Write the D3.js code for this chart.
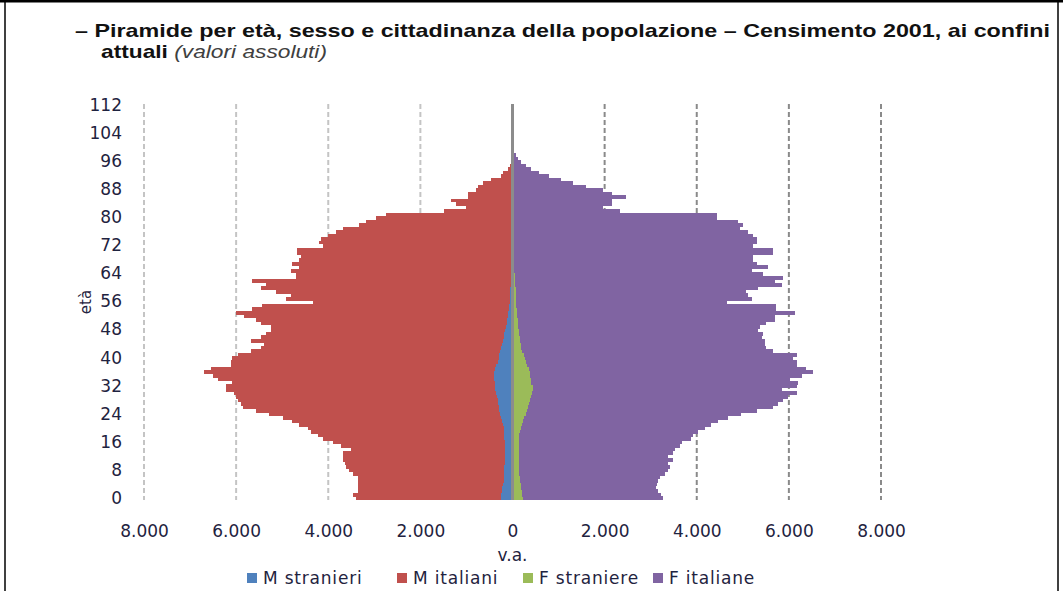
<!DOCTYPE html>
<html>
<head>
<meta charset="utf-8">
<script src="https://cdn.jsdelivr.net/npm/d3@7"></script>
<style>
  body { margin: 0; background: #fff; }
  svg { display: block; font-family: "DejaVu Sans", sans-serif; }
</style>
</head>
<body>
<div id="chart"></div>
<script>
// DATA (ages 0..100, absolute values)
var ages = d3.range(0, 113);
var yTicks = [0, 8, 16, 24, 32, 40, 48, 56, 64, 72, 80, 88, 96, 104, 112];
var xTicks = [-8000, -6000, -4000, -2000, 0, 2000, 4000, 6000, 8000];
var seriesNames = ["M stranieri", "M italiani", "F straniere", "F italiane"];
var seriesColors = ["#4f81bd", "#c0504d", "#9bbb59", "#8064a2"];

var mStranieri = [245,240,230,225,210,195,185,180,175,175,
  170,170,165,165,165,170,170,175,175,180,
  195,210,225,245,265,285,300,315,320,340,
  360,375,385,390,400,405,405,380,350,320,
  300,285,270,250,230,210,190,175,160,145,
  130,115,100,90,80,75,65,60,55,50,
  45,40,38,35,33,30,28,26,24,22,
  20,18,17,16,15,14,13,12,11,10,
  9,8,7,6,6,5,5,4,4,3,
  3,2,2,2,1,1,1,1,0,0,0];

var mItaliani = [3155,3230,3130,3135,3150,3165,3175,3290,3385,3445,
  3470,3500,3515,3505,3345,3550,3730,3945,4045,4200,
  4235,4420,4555,4745,5015,5285,5560,5585,5630,5670,
  5680,5845,5835,5710,6000,6105,6295,6170,5760,5790,
  5800,5685,5410,5210,5170,5470,5270,5175,5090,5105,
  5330,5455,5730,5920,5570,5355,4275,4860,4755,5090,
  5415,5310,5612,4665,4667,4780,4602,4754,4606,4568,
  4650,4652,4103,4174,4145,3996,3817,3678,3319,3170,
  2951,2742,1473,1004,1214,1325,965,966,786,747,
  647,458,248,208,99,64,29,14,5,0,0];

var fStraniere = [225,215,200,190,175,165,155,150,145,140,
  140,135,135,135,135,140,140,145,150,165,
  185,210,235,260,290,315,340,355,370,400,
  430,455,440,410,395,385,370,350,325,300,
  270,240,210,195,180,170,160,150,140,130,
  120,110,100,95,90,85,80,80,80,75,
  70,60,55,50,45,40,38,35,32,30,
  28,26,24,22,20,18,17,16,15,14,
  13,12,11,10,9,8,7,6,5,4,
  3,3,2,2,2,1,1,1,0,0,0];

var fItaliane = [3045,3015,2960,2930,2965,2995,3045,3150,3235,3270,
  3240,3355,3245,3355,3385,3490,3530,3735,3770,3865,
  3985,4110,4225,4420,4680,4985,5320,5415,5510,5590,
  5740,5385,5730,5790,5625,5895,6160,6030,5845,5870,
  5830,5930,5450,5315,5300,5310,5250,5290,5190,5240,
  5390,5590,5600,6035,5640,5645,4570,5110,5040,5005,
  5260,5780,5645,5830,5395,5150,5512,5265,5188,5190,
  5632,5634,5196,5278,5280,5202,5103,4914,4995,4886,
  4417,4418,2319,1950,2141,2142,2453,2144,1955,1596,
  1307,1057,798,568,398,299,189,114,80,40,20];

(function () {

  // SETUP
  var width = 1063, height = 591;

  var svg = d3.select("#chart")
    .append("svg")
    .attr("width", width)
    .attr("height", height);

  var x = d3.scaleLinear().domain([-8000, 8000]).range([144, 881]);
  var y = d3.scaleBand().domain(ages).range([500, 104]).padding(0);

  var it = d3.formatLocale({ decimal: ",", thousands: ".", grouping: [3], currency: ["", "€"] });
  var fmt = it.format(",");

  // frame
  svg.append("line").attr("x1", 0).attr("x2", width).attr("y1", 1).attr("y2", 1)
    .attr("stroke", "#000").attr("stroke-width", 3);
  svg.append("line").attr("x1", 5).attr("x2", 5).attr("y1", 0).attr("y2", height)
    .attr("stroke", "#000").attr("stroke-width", 1.5);
  svg.append("line").attr("x1", 1058).attr("x2", 1058).attr("y1", 0).attr("y2", height)
    .attr("stroke", "#000").attr("stroke-width", 1.5);

  // TITLE
  svg.append("text")
    .attr("x", 75).attr("y", 37)
    .attr("font-family", "Liberation Sans, Arial, sans-serif")
    .attr("font-weight", "bold")
    .attr("font-size", 19)
    .attr("fill", "#111")
    .attr("textLength", 975)
    .attr("lengthAdjust", "spacingAndGlyphs")
    .text("– Piramide per età, sesso e cittadinanza della popolazione – Censimento 2001, ai confini");

  var t2 = svg.append("text")
    .attr("x", 101).attr("y", 58)
    .attr("font-family", "Liberation Sans, Arial, sans-serif")
    .attr("font-size", 19)
    .attr("fill", "#111")
    .attr("textLength", 226)
    .attr("lengthAdjust", "spacingAndGlyphs");
  t2.append("tspan").attr("font-weight", "bold").text("attuali");
  t2.append("tspan").attr("font-style", "italic").attr("fill", "#404040").text(" (valori assoluti)");

  // GRID
  var g = svg.append("g");

  g.selectAll(".grid")
    .data(xTicks.filter(function (d) { return d !== 0; }))
    .enter().append("line")
    .attr("class", "grid")
    .attr("x1", function (d) { return x(d); })
    .attr("x2", function (d) { return x(d); })
    .attr("y1", 104)
    .attr("y2", 500)
    .attr("stroke", function (d) { return d < 0 ? "#c4c4c4" : "#8a8a8a"; })
    .attr("stroke-width", 2)
    .attr("stroke-dasharray", "5,3");

  // BARS
  var rows = ages.map(function (a, i) {
    return {
      age: a,
      mStr: -(mStranieri[i] || 0),
      mIta: -(mItaliani[i] || 0),
      fStr: fStraniere[i] || 0,
      fIta: fItaliane[i] || 0
    };
  });

  var keys = ["mStr", "mIta", "fStr", "fIta"];
  var stacked = d3.stack().keys(keys).offset(d3.stackOffsetDiverging)(rows);

  g.selectAll(".series")
    .data(stacked)
    .enter().append("g")
    .attr("class", "series")
    .attr("fill", function (d, i) { return seriesColors[i]; })
    .selectAll("rect")
    .data(function (d) { return d.filter(function (p) { return p[1] !== p[0]; }); })
    .enter().append("rect")
    .attr("x", function (d) { return x(Math.min(d[0], d[1])); })
    .attr("width", function (d) { return Math.abs(x(d[1]) - x(d[0])); })
    .attr("y", function (d) { return y(d.data.age); })
    .attr("height", y.bandwidth() + 0.3)
    .attr("shape-rendering", "crispEdges");

  // zero axis line
  g.append("line")
    .attr("x1", x(0)).attr("x2", x(0))
    .attr("y1", 104).attr("y2", 500)
    .attr("stroke", "#8c8c8c")
    .attr("stroke-width", 3);

  // AXES
  g.append("g")
    .attr("class", "axis axis--y")
    .attr("transform", "translate(125,0)")
    .call(d3.axisLeft(y).tickValues(yTicks).tickSize(0).tickPadding(3));

  g.append("g")
    .attr("class", "axis axis--x")
    .attr("transform", "translate(0,519)")
    .call(d3.axisBottom(x).tickValues(xTicks).tickSize(0).tickPadding(6)
      .tickFormat(function (d) { return fmt(Math.abs(d)); }));

  g.selectAll(".axis .domain").remove();
  g.selectAll(".axis text")
    .attr("font-family", "DejaVu Sans, sans-serif")
    .attr("font-size", 17)
    .attr("fill", "#1f2340");

  // axis titles
  g.append("text")
    .attr("transform", "translate(91,302) rotate(-90)")
    .attr("text-anchor", "middle")
    .attr("font-size", 15)
    .attr("fill", "#1f2340")
    .text("età");

  g.append("text")
    .attr("x", x(0)).attr("y", 561)
    .attr("text-anchor", "middle")
    .attr("font-size", 17)
    .attr("fill", "#1f2340")
    .text("v.a.");

  // LEGEND
  var legendX = [247, 397, 523, 653];
  var legend = g.selectAll(".legend")
    .data(seriesNames)
    .enter().append("g")
    .attr("class", "legend")
    .attr("transform", function (d, i) { return "translate(" + legendX[i] + ",573)"; });

  legend.append("rect")
    .attr("width", 10).attr("height", 10)
    .attr("fill", function (d, i) { return seriesColors[i]; });

  legend.append("text")
    .attr("x", 16).attr("y", 11)
    .attr("font-size", 17)
    .attr("letter-spacing", 0.8)
    .attr("fill", "#1f2340")
    .text(function (d) { return d; });

})();
</script>
</body>
</html>
